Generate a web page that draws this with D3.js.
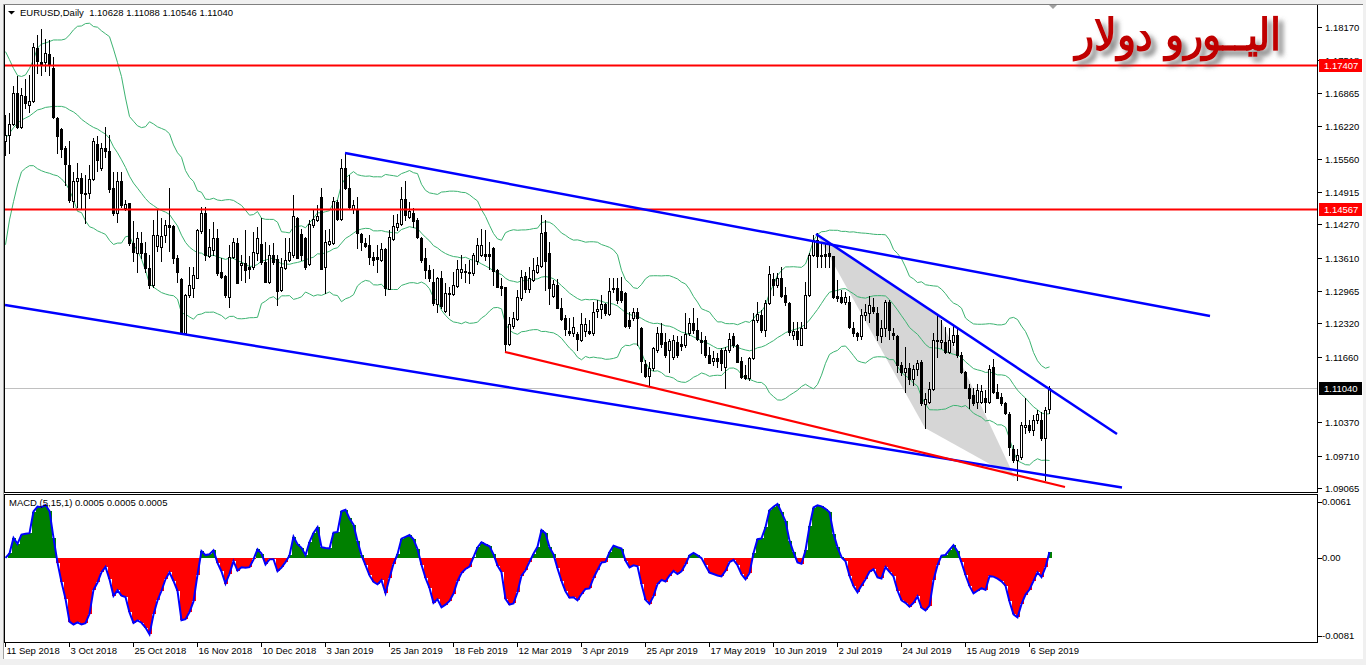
<!DOCTYPE html>
<html><head><meta charset="utf-8">
<script src="https://cdn.jsdelivr.net/npm/d3@7"></script>
<style>
html,body{margin:0;padding:0;background:#fff;overflow:hidden}
svg{display:block}
text{font-family:"Liberation Sans",Arial,sans-serif}
</style></head><body>
<svg id="c" width="1366" height="665"></svg>
<script>
// ---------------- DATA ----------------
const open=[1.1591,1.1604,1.1625,1.1687,1.1620,1.1681,1.1663,1.1670,1.1775,1.1747,1.1747,1.1763,1.1735,1.1638,1.1615,1.1578,1.1545,1.1474,1.1512,1.1518,
1.1490,1.1489,1.1516,1.1586,1.1538,1.1578,1.1572,1.1499,1.1449,1.1513,1.1460,1.1469,1.1390,1.1370,1.1390,1.1370,1.1341,1.1308,1.1385,1.1383,
1.1406,1.1425,1.1424,1.1360,1.1319,1.1213,1.1288,1.1302,1.1322,1.1414,1.1450,1.1365,1.1377,1.1400,1.1334,1.1326,1.1284,1.1363,1.1391,1.1347,
1.1351,1.1344,1.1344,1.1370,1.1388,1.1353,1.1313,1.1367,1.1358,1.1298,1.1342,1.1357,1.1367,1.1440,1.1409,1.1400,1.1350,1.1426,1.1436,1.1481,
1.1344,1.1388,1.1390,1.1472,1.1438,1.1539,1.1498,1.1457,1.1457,1.1408,1.1390,1.1387,1.1362,1.1362,1.1357,1.1379,1.1300,1.1398,1.1423,1.1427,
1.1477,1.1442,1.1449,1.1436,1.1401,1.1361,1.1337,1.1314,1.1271,1.1321,1.1257,1.1290,1.1289,1.1306,1.1334,1.1335,1.1334,1.1332,1.1354,1.1367,
1.1369,1.1369,1.1381,1.1337,1.1306,1.1304,1.1192,1.1227,1.1240,1.1282,1.1325,1.1300,1.1317,1.1334,1.1346,1.1412,1.1370,1.1286,1.1308,1.1263,
1.1242,1.1217,1.1212,1.1210,1.1199,1.1217,1.1217,1.1212,1.1257,1.1260,1.1270,1.1250,1.1299,1.1301,1.1296,1.1291,1.1238,1.1243,1.1255,1.1223,
1.1151,1.1128,1.1143,1.1179,1.1213,1.1196,1.1179,1.1166,1.1196,1.1191,1.1189,1.1212,1.1232,1.1219,1.1200,1.1199,1.1169,1.1158,1.1164,1.1179,
1.1146,1.1179,1.1206,1.1189,1.1158,1.1130,1.1125,1.1163,1.1238,1.1248,1.1219,1.1273,1.1319,1.1308,1.1322,1.1287,1.1273,1.1209,1.1217,1.1190,
1.1223,1.1288,1.1367,1.1396,1.1367,1.1368,1.1370,1.1364,1.1285,1.1283,1.1275,1.1275,1.1222,1.1213,1.1206,1.1248,1.1252,1.1265,1.1252,1.1206,
1.1222,1.1275,1.1212,1.1207,1.1150,1.1136,1.1143,1.1122,1.1142,1.1155,1.1073,1.1077,1.1102,1.1200,1.1196,1.1196,1.1176,1.1196,1.1209,1.1169,
1.1136,1.1104,1.1090,1.1077,1.1077,1.1084,1.1077,1.1146,1.1097,1.1087,1.1074,1.1054,1.0985,1.0962,1.0969,1.1028,1.1031,1.1021,1.1041,1.1041,
1.1005,1.10628];
const high=[1.1643,1.1647,1.1701,1.1719,1.1696,1.1714,1.1722,1.1785,1.1801,1.1813,1.1793,1.1791,1.1758,1.1640,1.1617,1.1581,1.1591,1.1531,1.1548,1.1528,
1.1525,1.1545,1.1597,1.1602,1.1587,1.1620,1.1604,1.1531,1.1531,1.1531,1.1476,1.1469,1.1433,1.1413,1.1413,1.1393,1.1367,1.1436,1.1456,1.1439,
1.1436,1.1499,1.1426,1.1367,1.1321,1.1289,1.1344,1.1344,1.1419,1.1462,1.1462,1.1419,1.1431,1.1419,1.1360,1.1327,1.1386,1.1400,1.1400,1.1367,
1.1416,1.1365,1.1413,1.1423,1.1440,1.1393,1.1386,1.1391,1.1367,1.1360,1.1400,1.1400,1.1485,1.1442,1.1419,1.1403,1.1436,1.1456,1.1465,1.1498,
1.1416,1.1419,1.1482,1.1475,1.1556,1.1569,1.1525,1.1475,1.1482,1.1410,1.1400,1.1406,1.1373,1.1387,1.1390,1.1380,1.1416,1.1446,1.1447,1.1500,
1.1513,1.1472,1.1459,1.1439,1.1403,1.1380,1.1347,1.1339,1.1324,1.1335,1.1311,1.1304,1.1334,1.1357,1.1367,1.1350,1.1357,1.1370,1.1401,1.1419,
1.1416,1.1393,1.1383,1.1340,1.1321,1.1304,1.1245,1.1255,1.1298,1.1337,1.1334,1.1344,1.1360,1.1362,1.1446,1.1436,1.1393,1.1317,1.1319,1.1281,
1.1249,1.1242,1.1245,1.1215,1.1252,1.1242,1.1238,1.1275,1.1278,1.1288,1.1273,1.1322,1.1321,1.1321,1.1324,1.1294,1.1255,1.1262,1.1262,1.1225,
1.1160,1.1156,1.1186,1.1225,1.1232,1.1212,1.1202,1.1209,1.1206,1.1206,1.1252,1.1242,1.1262,1.1242,1.1215,1.1206,1.1186,1.1177,1.1173,1.1183,
1.1186,1.1212,1.1212,1.1192,1.1166,1.1150,1.1166,1.1252,1.1275,1.1258,1.1278,1.1346,1.1331,1.1331,1.1344,1.1304,1.1275,1.1235,1.1235,1.1235,
1.1314,1.1370,1.1406,1.1410,1.1393,1.1390,1.1387,1.1364,1.1317,1.1298,1.1294,1.1285,1.1235,1.1215,1.1261,1.1271,1.1285,1.1281,1.1265,1.1238,
1.1278,1.1278,1.1222,1.1209,1.1156,1.1186,1.1153,1.1150,1.1160,1.1160,1.1094,1.1117,1.1212,1.1248,1.1238,1.1225,1.1222,1.1229,1.1225,1.1176,
1.1138,1.1113,1.1104,1.1113,1.1110,1.1100,1.1150,1.1161,1.1113,1.1094,1.1077,1.1058,1.0992,1.0985,1.1038,1.1084,1.1041,1.1051,1.1061,1.1058,
1.1067,1.11088];
const low=[1.1564,1.1568,1.1624,1.1617,1.1618,1.1656,1.1649,1.1668,1.1726,1.1722,1.1729,1.1722,1.1637,1.1568,1.1561,1.1505,1.1472,1.1462,1.1462,1.1459,
1.1429,1.1479,1.1515,1.1533,1.1535,1.1561,1.1492,1.1446,1.1431,1.1462,1.1456,1.1387,1.1354,1.1333,1.1360,1.1334,1.1301,1.1304,1.1374,1.1354,
1.1393,1.1374,1.1351,1.1314,1.1212,1.1212,1.1284,1.1284,1.1321,1.1411,1.1357,1.1363,1.1367,1.1327,1.1322,1.1284,1.1265,1.1360,1.1311,1.1317,
1.1314,1.1321,1.1340,1.1357,1.1350,1.1313,1.1311,1.1350,1.1268,1.1296,1.1339,1.1355,1.1363,1.1360,1.1357,1.1340,1.1347,1.1423,1.1433,1.1339,
1.1291,1.1386,1.1388,1.1436,1.1436,1.1497,1.1459,1.1449,1.1380,1.1377,1.1383,1.1350,1.1348,1.1334,1.1354,1.1288,1.1300,1.1396,1.1416,1.1426,
1.1436,1.1439,1.1423,1.1400,1.1353,1.1321,1.1315,1.1268,1.1255,1.1262,1.1255,1.1249,1.1288,1.1304,1.1321,1.1314,1.1311,1.1327,1.1350,1.1364,
1.1357,1.1340,1.1308,1.1304,1.1288,1.1176,1.1189,1.1222,1.1239,1.1278,1.1294,1.1294,1.1316,1.1331,1.1344,1.1298,1.1271,1.1284,1.1262,1.1238,
1.1209,1.1208,1.1206,1.1179,1.1197,1.1206,1.1211,1.1209,1.1245,1.1242,1.1248,1.1248,1.1293,1.1273,1.1275,1.1225,1.1223,1.1238,1.1189,1.1136,
1.1127,1.1110,1.1140,1.1176,1.1186,1.1166,1.1136,1.1162,1.1166,1.1179,1.1186,1.1209,1.1212,1.1199,1.1173,1.1166,1.1153,1.1150,1.1146,1.1140,
1.1104,1.1176,1.1186,1.1155,1.1125,1.1122,1.1120,1.1161,1.1235,1.1215,1.1206,1.1271,1.1288,1.1304,1.1283,1.1268,1.1209,1.1202,1.1190,1.1189,
1.1222,1.1286,1.1364,1.1344,1.1344,1.1344,1.1344,1.1281,1.1276,1.1273,1.1271,1.1222,1.1206,1.1199,1.1202,1.1238,1.1235,1.1252,1.1199,1.1196,
1.1206,1.1202,1.1202,1.1136,1.1130,1.1097,1.1113,1.1110,1.1130,1.1071,1.1025,1.1074,1.1100,1.1166,1.1183,1.1173,1.1173,1.1189,1.1166,1.1133,
1.1104,1.1064,1.1071,1.1064,1.1074,1.1058,1.1074,1.1094,1.1084,1.1071,1.1054,1.0972,1.0959,1.0923,1.0965,1.1015,1.1018,1.1011,1.1035,1.1002,
1.0923,1.10546];
const close=[1.1604,1.1625,1.1687,1.1620,1.1683,1.1666,1.1671,1.1777,1.1750,1.1743,1.1765,1.1741,1.1640,1.1601,1.1576,1.1546,1.1476,1.1513,1.1518,1.1489,
1.1488,1.1516,1.1592,1.1555,1.1578,1.1572,1.1497,1.1449,1.1513,1.1466,1.1467,1.1390,1.1372,1.1400,1.1370,1.1341,1.1308,1.1406,1.1406,1.1405,
1.1426,1.1423,1.1360,1.1333,1.1214,1.1288,1.1307,1.1327,1.1416,1.1450,1.1367,1.1383,1.1400,1.1331,1.1324,1.1288,1.1363,1.1392,1.1312,1.1351,
1.1338,1.1340,1.1373,1.1400,1.1353,1.1314,1.1367,1.1353,1.1296,1.1344,1.1357,1.1373,1.1444,1.1361,1.1367,1.1344,1.1427,1.1437,1.1444,1.1340,
1.1393,1.1395,1.1473,1.1438,1.1539,1.1498,1.1462,1.1465,1.1410,1.1393,1.1385,1.1362,1.1357,1.1358,1.1379,1.1302,1.1403,1.1424,1.1429,1.1477,
1.1446,1.1454,1.1433,1.1403,1.1357,1.1337,1.1321,1.1273,1.1322,1.1266,1.1291,1.1292,1.1308,1.1339,1.1339,1.1333,1.1331,1.1367,1.1387,1.1387,
1.1365,1.1365,1.1335,1.1304,1.1302,1.1192,1.1230,1.1242,1.1283,1.1324,1.1300,1.1322,1.1337,1.1348,1.1410,1.1354,1.1302,1.1309,1.1263,1.1240,
1.1221,1.1213,1.1225,1.1201,1.1231,1.1231,1.1213,1.1255,1.1260,1.1271,1.1252,1.1296,1.1301,1.1278,1.1278,1.1227,1.1227,1.1254,1.1242,1.1158,
1.1129,1.1144,1.1183,1.1212,1.1192,1.1169,1.1197,1.1199,1.1169,1.1187,1.1210,1.1232,1.1219,1.1202,1.1196,1.1169,1.1154,1.1164,1.1158,1.1154,
1.1179,1.1202,1.1189,1.1156,1.1127,1.1125,1.1164,1.1238,1.1250,1.1219,1.1273,1.1329,1.1308,1.1322,1.1285,1.1275,1.1215,1.1217,1.1202,1.1223,
1.1288,1.1367,1.1396,1.1364,1.1364,1.1365,1.1365,1.1283,1.1281,1.1275,1.1283,1.1225,1.1212,1.1206,1.1248,1.1254,1.1268,1.1256,1.1209,1.1222,
1.1275,1.1219,1.1208,1.1150,1.1136,1.1143,1.1123,1.1142,1.1153,1.1074,1.1083,1.1102,1.1200,1.1197,1.1199,1.1176,1.1199,1.1209,1.1169,1.1135,
1.1105,1.1085,1.1074,1.1100,1.1099,1.1077,1.1141,1.1097,1.1085,1.1074,1.1056,1.0988,1.0962,1.0972,1.1031,1.1031,1.1021,1.1042,1.1054,1.1005,
1.1061,1.11040];

// Bollinger band values for the first 19 bars (earlier history is off-chart)
const bbHeadUpper=[1.1768,1.1752,1.1735,1.1721,1.1719,1.1722,1.1735,1.1752,1.1775,1.1783,1.1785,1.1788,1.1791,1.1791,1.1791,1.1793,1.1801,1.1811,1.1818];
const bbHeadMiddle=[1.1597,1.1607,1.1618,1.1627,1.1633,1.1637,1.1641,1.1647,1.1653,1.1655,1.1658,1.1659,1.1660,1.1660,1.1660,1.1658,1.1653,1.1649,1.1643];
const bbHeadLower=[1.1387,1.1436,1.1472,1.1505,1.1531,1.1538,1.1543,1.1543,1.1537,1.1533,1.1530,1.1528,1.1525,1.1523,1.1517,1.1508,1.1495,1.1476,1.1453];

const priceTicks=[1.18170,1.17518,1.16865,1.16220,1.15560,1.14915,1.14270,1.13610,1.12965,1.12320,1.11660,1.10370,1.09710,1.09065];
const hLevels=[1.17407,1.14567];
const currentPrice=1.11040;
const macdTicks=[0.0061,0.00,-0.0081];
const macdTickText=["0.0061","0.00","-0.0081"];
const dateLabels=["11 Sep 2018","3 Oct 2018","25 Oct 2018","16 Nov 2018","10 Dec 2018","3 Jan 2019","25 Jan 2019","18 Feb 2019","12 Mar 2019","3 Apr 2019","25 Apr 2019","17 May 2019","10 Jun 2019","2 Jul 2019","24 Jul 2019","15 Aug 2019","6 Sep 2019"];

// trend lines: [bar1, price1, bar2, price2]
const blueLines=[[85,1.15681,301.25,1.12464],[0,1.12682,279.25,1.09081],[202.75,1.14082,278,1.10136]];
const redLines=[[125,1.11754,265,1.09091]];
const shadeBars=[203.25,233.25,252.5,230];
const shadePrices=[1.14043,1.12504,1.09268,1.10255];

const headerText="EURUSD,Daily  1.10628 1.11088 1.10546 1.11040";
const macdText="MACD (5,15,1) 0.0005 0.0005 0.0005";
const titleText="اليــورو دولار";

// ---------------- CHART ----------------
const n=close.length;
const svg=d3.select('#c');
const x=d3.scaleLinear().domain([0,n-1]).range([5,5+4*(n-1)]);
const y=d3.scaleLinear().domain([1.09065,1.18170]).range([488.3,26.8]);
const ym=d3.scaleLinear().domain([-0.0081,0.0061]).range([640,496]);
const px=i=>Math.round(x(i));

// frame
svg.append('rect').attr('width',1366).attr('height',665).attr('fill','#f0f0f0');
svg.append('rect').attr('x',3).attr('y',4).attr('width',1360).attr('height',655).attr('fill','#fff');
const defs=svg.append('defs');
defs.append('clipPath').attr('id','cm').append('rect').attr('x',5).attr('y',5).attr('width',1313).attr('height',487);
defs.append('clipPath').attr('id','cd').append('rect').attr('x',5).attr('y',495).attr('width',1313).attr('height',147);
const f=defs.append('filter').attr('id','sh').attr('x','-10%').attr('y','-20%').attr('width','130%').attr('height','160%');
f.append('feDropShadow').attr('dx',5).attr('dy',5).attr('stdDeviation',2.5).attr('flood-color','#606060').attr('flood-opacity',0.75);

const gm=svg.append('g').attr('clip-path','url(#cm)');

// shaded triangle
gm.append('path').attr('d',d3.line()(shadeBars.map((b,k)=>[x(b),y(shadePrices[k])]))+'Z').attr('fill','#d6d6d6');

// current price line
gm.append('line').attr('x1',5).attr('x2',1318).attr('y1',Math.round(y(currentPrice))+0.5).attr('y2',Math.round(y(currentPrice))+0.5).attr('stroke','#c0c0c0');

// Bollinger bands
const bbU=[],bbM=[],bbL=[];
for(let i=0;i<n;i++){
  if(i<19){bbU.push(bbHeadUpper[i]);bbM.push(bbHeadMiddle[i]);bbL.push(bbHeadLower[i]);continue;}
  const w=close.slice(i-19,i+1);const m=d3.mean(w);
  const sd=Math.sqrt(d3.sum(w,v=>(v-m)*(v-m))/20);
  bbU.push(m+2*sd);bbM.push(m);bbL.push(m-2*sd);
}
[bbU,bbM,bbL].forEach(arr=>{
  gm.append('path').attr('d',d3.line().x((d,i)=>px(i)+0.5).y(d=>y(d))(arr)).attr('fill','none').attr('stroke','#3cb371').attr('stroke-width',1);
});

// candles
const cg=gm.append('g').attr('shape-rendering','crispEdges');
const c=cg.selectAll('g').data(d3.range(n)).join('g');
c.append('line').attr('x1',i=>px(i)+0.5).attr('x2',i=>px(i)+0.5)
 .attr('y1',i=>Math.round(y(high[i]))).attr('y2',i=>Math.round(y(low[i]))+1).attr('stroke','#000');
c.append('rect').each(function(i){
  const t=Math.round(y(Math.max(open[i],close[i]))), b=Math.round(y(Math.min(open[i],close[i])));
  const s=d3.select(this);
  if(close[i]>=open[i]){
    s.attr('x',px(i)-0.5).attr('y',t+0.5).attr('width',2).attr('height',Math.max(b-t,1)).attr('fill','#fff').attr('stroke','#000');
  } else {
    s.attr('x',px(i)-1).attr('y',t).attr('width',3).attr('height',Math.max(b-t+1,1)).attr('fill','#000');
  }
});

// red horizontal levels
hLevels.forEach(v=>{gm.append('line').attr('x1',5).attr('x2',1318).attr('y1',y(v)).attr('y2',y(v)).attr('stroke','#ff0000').attr('stroke-width',2);});

// trend lines
blueLines.forEach(l=>{gm.append('line').attr('x1',x(l[0])).attr('y1',y(l[1])).attr('x2',x(l[2])).attr('y2',y(l[3])).attr('stroke','#0000ff').attr('stroke-width',2.5);});
redLines.forEach(l=>{gm.append('line').attr('x1',x(l[0])).attr('y1',y(l[1])).attr('x2',x(l[2])).attr('y2',y(l[3])).attr('stroke','#ff0000').attr('stroke-width',2.2);});

// MACD
const a5=2/6,a15=2/16;let e5=close[0],e15=close[0];const macd=[];
for(let i=0;i<n;i++){if(i>0){e5+=a5*(close[i]-e5);e15+=a15*(close[i]-e15);}macd.push(e5-e15);}
const gd=svg.append('g').attr('clip-path','url(#cd)');
gd.append('g').attr('shape-rendering','crispEdges').selectAll('rect').data(macd).join('rect')
 .attr('x',(d,i)=>px(i)-1.5).attr('width',4)
 .attr('y',d=>Math.min(ym(0),ym(d))).attr('height',d=>Math.abs(ym(d)-ym(0)))
 .attr('fill',d=>d>=0?'#008000':'#ff0000');
gd.append('path').attr('d',d3.line().x((d,i)=>px(i)+0.5).y(d=>ym(d))(macd)).attr('fill','none').attr('stroke','#0000ff').attr('stroke-width',2);

// panel borders
svg.append('rect').attr('x',4.5).attr('y',4.5).attr('width',1313).attr('height',488).attr('fill','none').attr('stroke','#000');
svg.append('rect').attr('x',4.5).attr('y',494.5).attr('width',1313).attr('height',148).attr('fill','none').attr('stroke','#000');
svg.append('line').attr('x1',3).attr('x2',1363).attr('y1',4.5).attr('y2',4.5).attr('stroke','#808080');
svg.append('line').attr('x1',3.5).attr('x2',3.5).attr('y1',4).attr('y2',659).attr('stroke','#a0a0a0');

// right price axis
const ax=svg.append('g');
priceTicks.forEach(v=>{
  const yy=Math.round(y(v))+0.5;
  ax.append('line').attr('x1',1318).attr('x2',1322).attr('y1',yy).attr('y2',yy).attr('stroke','#000');
  ax.append('text').attr('x',1325).attr('y',yy).attr('dy','0.35em').attr('font-size',9.5).attr('fill','#000').text(v.toFixed(5));
});
function priceBox(v,bg){
  const yy=Math.round(y(v));
  ax.append('rect').attr('x',1319).attr('y',yy-6).attr('width',43).attr('height',13).attr('fill',bg);
  ax.append('text').attr('x',1324).attr('y',yy+0.5).attr('dy','0.35em').attr('font-size',9.5).attr('fill','#fff').text(v.toFixed(5));
}
hLevels.forEach(v=>priceBox(v,'#ff0000'));
priceBox(currentPrice,'#000');

// MACD axis
macdTicks.forEach((v,k)=>{
  const yy=Math.min(Math.max(ym(v),502),636);
  ax.append('line').attr('x1',1318).attr('x2',1322).attr('y1',Math.round(yy)+0.5).attr('y2',Math.round(yy)+0.5).attr('stroke','#000');
  ax.append('text').attr('x',1322).attr('y',yy).attr('dy','0.35em').attr('font-size',9.5).attr('fill','#000').text(macdTickText[k]);
});

// date axis
dateLabels.forEach((t,k)=>{
  const xx=px(k*16)+0.5;
  ax.append('line').attr('x1',xx).attr('x2',xx).attr('y1',642).attr('y2',647).attr('stroke','#000');
  ax.append('text').attr('x',xx+1).attr('y',651).attr('dy','0.35em').attr('font-size',9.5).attr('fill','#000').text(t);
});

// header
svg.append('path').attr('d','M8,11 L15,11 L11.5,14.5 Z').attr('fill','#000');
svg.append('text').attr('x',20).attr('y',13).attr('dy','0.35em').attr('font-size',9.5).attr('fill','#000').attr('xml:space','preserve').style('white-space','pre').text(headerText);
svg.append('text').attr('x',9).attr('y',503).attr('dy','0.35em').attr('font-size',9.5).attr('fill','#000').text(macdText);
svg.append('path').attr('d','M1049,5 L1057,5 L1053,9 Z').attr('fill','#a0a0a0');

// title
svg.append('text').attr('x',1178).attr('y',50).attr('text-anchor','middle').attr('font-family','DejaVu Sans').attr('font-weight','bold')
 .attr('font-size',44).attr('textLength',206).attr('lengthAdjust','spacingAndGlyphs')
 .attr('fill','#c00000').attr('filter','url(#sh)').text(titleText);
</script>
</body></html>
